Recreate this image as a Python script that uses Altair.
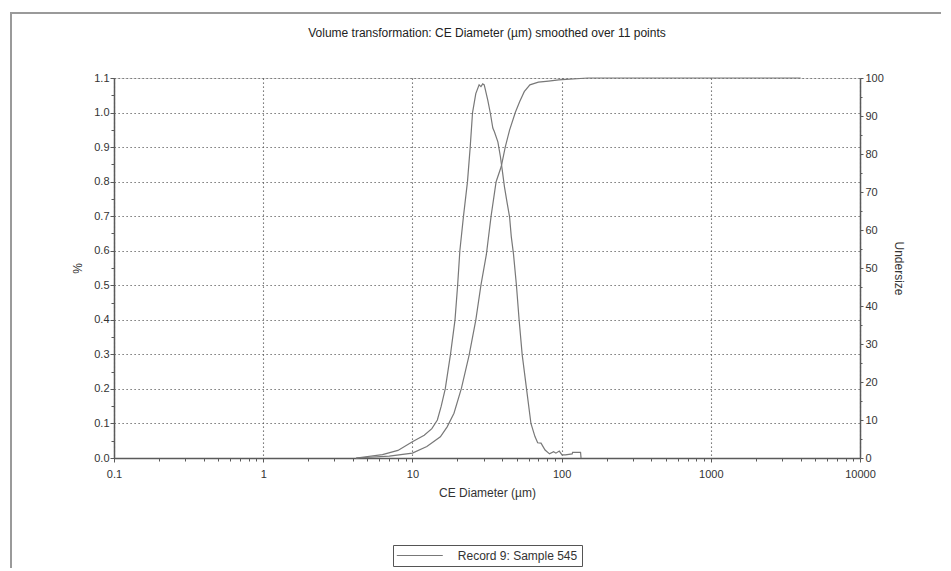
import altair as alt
import pandas as pd

# ---------------- data ----------------
record = "Record 9: Sample 545"
chart_title = "Volume transformation: CE Diameter (µm) smoothed over 11 points"

# frequency curve (% , left axis)
freq_d = [4.2, 6.3, 8.0, 10.0, 12.0, 13.5, 14.7, 15.6, 16.6, 18.0, 19.3, 20.1,
          20.8, 22.0, 23.4, 24.4, 25.3, 26.6, 28.0, 28.8, 29.6, 30.3, 32.0,
          33.3, 34.6, 35.4, 37.4, 38.9, 40.0, 41.4, 43.2, 44.8, 46.0, 47.6,
          49.8, 51.9, 54.4, 58.2, 62.3, 66.3, 69.1, 72.8, 77.5, 83.0, 88.4,
          91.6, 96.5, 100.6, 106.0, 117.7, 118.5, 134.0, 135.0]
freq_v = [0.0, 0.01, 0.022, 0.047, 0.066, 0.085, 0.11, 0.15, 0.20, 0.30, 0.40,
          0.50, 0.60, 0.70, 0.80, 0.90, 1.0, 1.055, 1.08, 1.075, 1.083, 1.08,
          1.036, 0.998, 0.955, 0.945, 0.915, 0.872, 0.834, 0.785, 0.737, 0.698,
          0.641, 0.59, 0.50, 0.40, 0.30, 0.20, 0.10, 0.062, 0.044, 0.043,
          0.023, 0.012, 0.018, 0.014, 0.02, 0.009, 0.009, 0.012, 0.016, 0.016,
          0.0]

# cumulative undersize curve (right axis)
cum_d = [4.2, 7.0, 10.0, 12.5, 15.4, 17.1, 19.0, 21.3, 24.0, 26.6, 28.8, 31.3,
         33.7, 36.4, 39.4, 41.9, 44.8, 49.0, 52.4, 56.2, 61.3, 69.9, 81.7,
         95.6, 150.0, 4000.0]
cum_v = [0.0, 0.5, 1.3, 3.0, 5.6, 8.2, 11.8, 18.3, 27.1, 36.3, 45.5, 53.5,
         63.7, 72.7, 76.7, 81.8, 86.3, 91.0, 93.8, 96.4, 98.2, 98.9, 99.2,
         99.5, 100.0, 100.0]

# tick values
x_major = [0.1, 1, 10, 100, 1000, 10000]
x_minor = [0.2, 0.3, 0.4, 0.5, 0.6, 0.7, 0.8, 0.9,
           2, 3, 4, 5, 6, 7, 8, 9,
           20, 30, 40, 50, 60, 70, 80, 90,
           200, 300, 400, 500, 600, 700, 800, 900,
           2000, 3000, 4000, 5000, 6000, 7000, 8000, 9000]
left_major = [0.0, 0.1, 0.2, 0.3, 0.4, 0.5, 0.6, 0.7, 0.8, 0.9, 1.0, 1.1]
left_minor = [0.05, 0.15, 0.25, 0.35, 0.45, 0.55, 0.65, 0.75, 0.85, 0.95, 1.05]
right_major = [0, 10, 20, 30, 40, 50, 60, 70, 80, 90, 100]
right_minor = [5, 15, 25, 35, 45, 55, 65, 75, 85, 95]

freq_df = pd.DataFrame({"d": freq_d, "v": freq_v, "rec": record})
cum_df = pd.DataFrame({"d": cum_d, "v": cum_v, "rec": record})
one_df = pd.DataFrame({"a": [0]})

# ---------------- style ----------------
FONT = "Liberation Sans"
LINE = "#787878"
TXT = "#333333"
AX = "#5a5a5a"
GRID = "#555555"

xscale = alt.Scale(type="log", domain=[0.1, 10000], nice=False)
yl_scale = alt.Scale(domain=[0, 1.1], nice=False, zero=True)
yr_scale = alt.Scale(domain=[0, 100], nice=False, zero=True)
color = alt.Color("rec:N",
                  scale=alt.Scale(domain=[record], range=[LINE]),
                  legend=alt.Legend(title=None, orient="none", legendX=279, legendY=467,
                                    strokeColor="#555555", padding=4,
                                    symbolType="M-3.83,0H3.83", symbolSize=144,
                                    symbolStrokeWidth=1, symbolOffset=16.3,
                                    labelOffset=31.5,
                                    labelFont=FONT, labelFontSize=12, labelColor=TXT))

common_axis = dict(labelFont=FONT, labelFontSize=11, labelColor=TXT,
                   titleFont=FONT, titleFontSize=12, titleColor=TXT,
                   titleFontWeight="normal", domainColor=AX, domainWidth=1.5,
                   tickColor=AX, tickWidth=1)

frame = alt.Chart(one_df).mark_rect(fillOpacity=0, stroke="#9a9a9a", strokeWidth=2).encode(
    x=alt.value(-103), x2=alt.value(900), y=alt.value(-65), y2=alt.value(600)
)

title_mark = alt.Chart(one_df).mark_text(
    font=FONT, fontSize=12, color="#222222", align="center", baseline="alphabetic"
).encode(x=alt.value(373), y=alt.value(-41), text=alt.value(chart_title))

freq = alt.Chart(freq_df).mark_line(strokeWidth=1.2).encode(
    x=alt.X("d:Q", scale=xscale,
            axis=alt.Axis(values=x_major, format="~g", title="CE Diameter (µm)",
                          orient="bottom", grid=True, gridDash=[1.2, 2.8], gridColor=GRID,
                          gridWidth=1.1, tickSize=4, labelPadding=6, titlePadding=8,
                          labelFlush=False, **common_axis)),
    y=alt.Y("v:Q", scale=yl_scale,
            axis=alt.Axis(values=left_major, format=".1f", title="%", orient="left",
                          grid=True, gridDash=[1.2, 2.8], gridColor=GRID, gridWidth=1.1,
                          tickSize=4, labelPadding=1, titlePadding=9, **common_axis)),
    color=color,
    order=alt.Order("d:Q"),
)

cum = alt.Chart(cum_df).mark_line(strokeWidth=1.2).encode(
    x=alt.X("d:Q", scale=xscale, axis=None),
    y=alt.Y("v:Q", scale=yr_scale,
            axis=alt.Axis(values=right_major, format="d", title="Undersize",
                          orient="right", grid=False, tickSize=3, labelPadding=2,
                          titlePadding=8, titleAngle=90, **common_axis)),
    color=color,
    order=alt.Order("d:Q"),
)

minor_left = alt.Chart(freq_df).mark_line(opacity=0).encode(
    x=alt.X("d:Q", scale=xscale,
            axis=alt.Axis(values=x_minor, orient="bottom", labels=False, grid=False,
                          domain=False, tickSize=3, tickColor=AX, title=None)),
    y=alt.Y("v:Q", scale=yl_scale,
            axis=alt.Axis(values=left_minor, orient="left", labels=False, grid=False,
                          domain=False, tickSize=3, tickColor=AX, title=None)),
)

minor_right = alt.Chart(cum_df).mark_line(opacity=0).encode(
    x=alt.X("d:Q", scale=xscale, axis=None),
    y=alt.Y("v:Q", scale=yr_scale,
            axis=alt.Axis(values=right_minor, orient="right", labels=False, grid=False,
                          domain=False, tickSize=2, tickColor=AX, title=None)),
)

chart = alt.layer(frame, title_mark, freq, cum, minor_left, minor_right).resolve_scale(
    y="independent"
).resolve_axis(
    x="independent", y="independent"
).properties(
    width=746, height=380,
    autosize=alt.AutoSizeParams(type="none"),
    padding={"left": 106, "top": 70, "right": 81, "bottom": 110},
).configure_view(strokeWidth=0).configure(background="white")

chart.save("out.html", embed_options={"renderer": "svg", "actions": False})
